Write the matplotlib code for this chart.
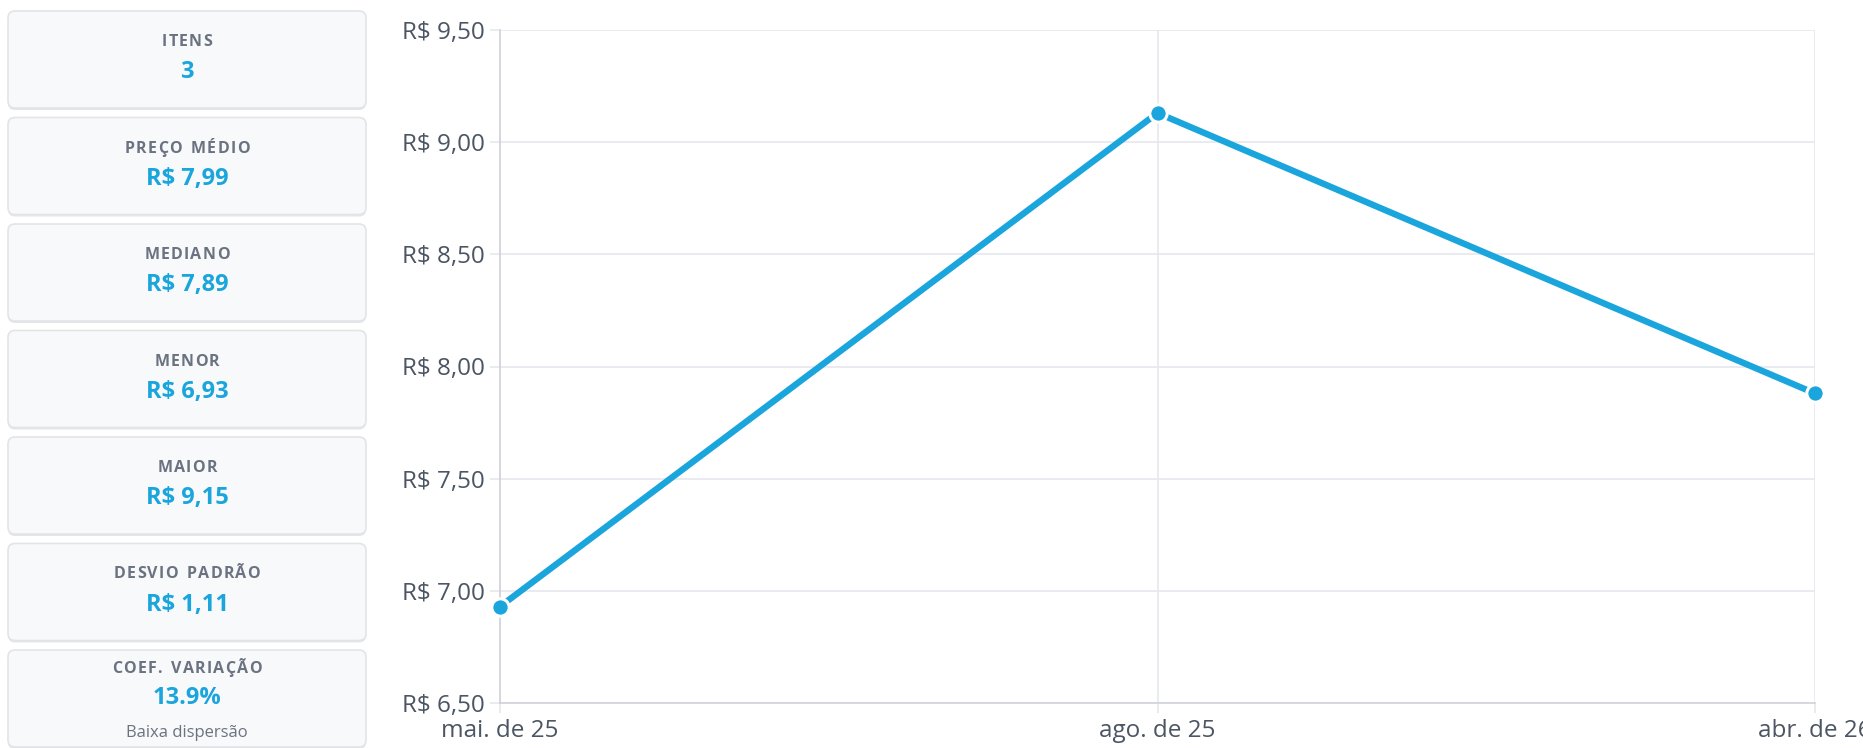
import matplotlib
matplotlib.use("Agg")
import matplotlib.pyplot as plt
from matplotlib.patches import FancyBboxPatch
from matplotlib.ticker import FuncFormatter
from matplotlib.font_manager import FontProperties
from matplotlib.textpath import text_to_path

plt.rcParams['font.family'] = ['Open Sans', 'DejaVu Sans']

colors = {
    'blue': '#1aa5dd',
    'label': '#6b7280',
    'tick': '#4b5563',
    'grid': '#e6e8ee',
    'spine': '#cfd2d8',
    'card': '#f8f9fb',
    'card_edge': '#e2e4e8',
}

# Stat cards on the left
card_labels = ['ITENS', 'PREÇO MÉDIO', 'MEDIANO', 'MENOR', 'MAIOR', 'DESVIO PADRÃO', 'COEF. VARIAÇÃO']
card_values = ['3', 'R$ 7,99', 'R$ 7,89', 'R$ 6,93', 'R$ 9,15', 'R$ 1,11', '13.9%']
card_note = 'Baixa dispersão'

# Price series
months = ['mai. de 25', 'ago. de 25', 'abr. de 26']
prices = [6.93, 9.13, 7.88]
y_ticks = [6.5, 7.0, 7.5, 8.0, 8.5, 9.0, 9.5]

W, H = 1863, 748
fig = plt.figure(figsize=(W / 100, H / 100), dpi=100, facecolor='white')

# Overlay axes in pixel coordinates for the cards
bg = fig.add_axes([0, 0, 1, 1])
bg.set_xlim(0, W)
bg.set_ylim(H, 0)
bg.axis('off')

label_fp = FontProperties(family='Open Sans', weight='bold', size=11.5)


def char_px(ch, fp):
    # advance of one character in pixels at dpi 100
    w, _, _ = text_to_path.get_text_width_height_descent('I' + ch + 'I', fp, ismath=False)
    wi, _, _ = text_to_path.get_text_width_height_descent('II', fp, ismath=False)
    return (w - wi) * 100 / 72


def spaced_text(cx, cy, s, fp, spacing, color, space_extra=2.5):
    # letter-spaced text, centred on cx
    adv = [char_px(ch, fp) + spacing + (space_extra if ch == ' ' else 0) for ch in s]
    total = sum(adv) - spacing
    xk = cx - total / 2
    for ch, a in zip(s, adv):
        if ch != ' ':
            bg.text(xk, cy, ch, ha='left', va='center', fontproperties=fp,
                    color=color, zorder=3)
        xk += a


card_x0, card_x1 = 8, 366
card_h = 97
card_step = 106.5
for i, (lab, val) in enumerate(zip(card_labels, card_values)):
    top = 11 + i * card_step
    # soft bottom shadow
    bg.add_patch(FancyBboxPatch((card_x0, top + 2), card_x1 - card_x0, card_h,
                                boxstyle='round,pad=0,rounding_size=7',
                                fc='#e4e6ea', ec='none', zorder=1))
    bg.add_patch(FancyBboxPatch((card_x0, top), card_x1 - card_x0, card_h,
                                boxstyle='round,pad=0,rounding_size=7',
                                fc=colors['card'], ec=colors['card_edge'], lw=1.2, zorder=2))
    cx = (card_x0 + card_x1) / 2
    if i == len(card_labels) - 1:
        ly, vy = top + 19, top + 48
        bg.text(cx, top + 83, card_note, ha='center', va='center', fontsize=12,
                color=colors['label'], zorder=3)
    else:
        ly, vy = top + 31, top + 61
    spaced_text(cx, ly, lab, label_fp, 1.2, colors['label'])
    bg.text(cx, vy, val, ha='center', va='center', fontsize=17, fontweight='bold',
            color=colors['blue'], zorder=3)

# Line chart
ax = fig.add_axes([500 / W, 1 - 703 / H, (1815 - 500) / W, (703 - 30) / H])
ax.set_facecolor('none')
x = list(range(len(months)))
ax.plot(x, prices, color=colors['blue'], lw=4.6, solid_capstyle='round', zorder=3)
ax.plot(x, prices, 'o', color=colors['blue'], ms=12.5, mec='white', mew=2.2, zorder=4, clip_on=False)

ax.set_xlim(0, len(months) - 1)
ax.set_ylim(6.5, 9.5)
ax.set_xticks(x)
ax.set_xticklabels(months)
ax.set_yticks(y_ticks)
ax.yaxis.set_major_formatter(FuncFormatter(lambda v, p: f"R$ {v:.2f}".replace('.', ',')))

ax.grid(True, color=colors['grid'], lw=1.2)
ax.set_axisbelow(True)
ax.tick_params(axis='both', colors=colors['grid'], labelcolor=colors['tick'],
               labelsize=17.5, length=7.5, width=1.2)
ax.tick_params(axis='y', pad=3.5)
ax.tick_params(axis='x', pad=4)

for side in ['top', 'right']:
    ax.spines[side].set_visible(False)
for side in ['left', 'bottom']:
    ax.spines[side].set_color(colors['spine'])
    ax.spines[side].set_linewidth(1.2)

fig.savefig('out.png', dpi=100, facecolor='white')
